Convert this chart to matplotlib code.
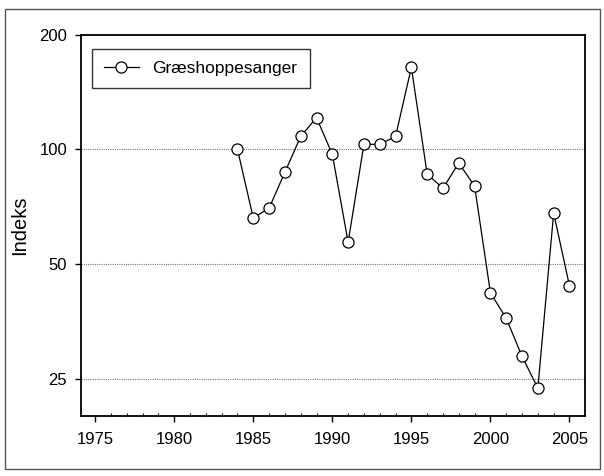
import matplotlib
matplotlib.use("Agg")
import matplotlib.pyplot as plt
from matplotlib.ticker import FixedLocator, NullFormatter, NullLocator
from matplotlib.patches import Rectangle

plt.rcParams['font.family'] = ['Liberation Sans', 'DejaVu Sans']

# Data
years = [1984, 1985, 1986, 1987, 1988, 1989, 1990, 1991, 1992, 1993, 1994,
         1995, 1996, 1997, 1998, 1999, 2000, 2001, 2002, 2003, 2004, 2005]
indeks = [100, 66, 70, 87, 108, 121, 97, 57, 103, 103, 108,
          164, 86, 79, 92, 80, 42, 36, 28.6, 23.6, 68, 43.8]
yticks = [25, 50, 100, 200]
xticks = [1975, 1980, 1985, 1990, 1995, 2000, 2005]

fig = plt.figure(figsize=(6.04, 4.76), dpi=100)
ax = fig.add_axes([0.134, 0.127, 0.835, 0.8005])

# outer frame round the whole figure
fig.patches.append(Rectangle((0.008, 0.015), 0.985, 0.966, transform=fig.transFigure,
                             fill=False, edgecolor='#555555', linewidth=1.0))

ax.plot(years, indeks, color='black', linewidth=0.9, marker='o', markersize=8,
        markerfacecolor='white', markeredgecolor='black', markeredgewidth=0.9,
        label='Græshoppesanger')

ax.set_yscale('log')
ax.set_ylim(20, 200)
ax.set_xlim(1974.1, 2006.0)
ax.yaxis.set_major_locator(FixedLocator(yticks))
ax.set_yticklabels([str(v) for v in yticks])
ax.yaxis.set_minor_locator(NullLocator())
ax.yaxis.set_minor_formatter(NullFormatter())
ax.set_xticks(xticks)
ax.set_xticks(range(1975, 2006), minor=True)

for v in yticks:
    ax.axhline(v, color='#777777', linestyle=(0, (1, 1)), linewidth=0.8, zorder=0)

ax.tick_params(axis='both', which='major', direction='out', length=4, width=1,
               labelsize=12, pad=6)
ax.tick_params(axis='x', which='minor', direction='in', length=2, width=0.7)
ax.tick_params(axis='x', which='major', pad=8)
for s in ax.spines.values():
    s.set_linewidth(1.3)

ax.set_ylabel('Indeks', fontsize=14.5, labelpad=7)

leg = ax.legend(loc='upper left', fontsize=12.5, frameon=True, fancybox=False,
                edgecolor='black', borderpad=0.7, handlelength=2.0,
                bbox_to_anchor=(0.004, 0.985))
leg.get_frame().set_linewidth(1.0)

fig.savefig('out.png', dpi=100)
